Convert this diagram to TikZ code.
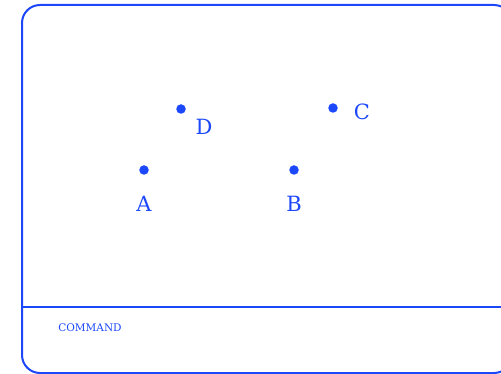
\documentclass[tikz,border=0pt]{standalone}
\usepackage{fontspec}
\usepackage{tikz}
\usetikzlibrary{positioning, calc}

\newfontfamily\screenfont{DejaVu Serif}
\definecolor{screenblue}{RGB}{28,72,250}

\begin{document}
\begin{tikzpicture}[
    x=1pt, y=1pt,
    % --- STYLES ---
    frame/.style={draw=screenblue, line width=2pt, rounded corners=18pt},
    divider/.style={draw=screenblue, line width=1.6pt},
    dot/.style={circle, fill=screenblue, inner sep=0pt, minimum size=9.5pt},
    letter/.style={text=screenblue, inner sep=0pt, font=\screenfont\fontsize{21}{24}\selectfont},
    cmdtext/.style={text=screenblue, inner sep=0pt, font=\screenfont\fontsize{10.5}{12}\selectfont}
]

    % --- CANVAS ---
    \clip (0,0) rectangle (501,-374);

    % --- SCREEN FRAME ---
    \draw[frame] (22,-5) rectangle (512,-373);
    \coordinate (divleft) at (22,-307);
    \coordinate (divright) at (512,-307);
    \draw[divider] (divleft) -- (divright);

    % --- POINTS ---
    \node[dot] (d) at (181,-109) {};
    \node[dot] (c) at (333,-108) {};
    \node[dot] (a) at (144,-170) {};
    \node[dot] (b) at (294,-170) {};

    % --- LABELS ---
    \node[letter] (labeld) at ($(d)+(23,-18)$) {D};
    \node[letter] (labelc) at ($(c)+(29,-4)$) {C};
    \node[letter] (labela) at ($(a)+(0,-34)$) {A};
    \node[letter] (labelb) at ($(b)+(0,-34)$) {B};

    % --- COMMAND LINE ---
    \node[cmdtext] (command) at (90,-328) {COMMAND};

\end{tikzpicture}
\end{document}
